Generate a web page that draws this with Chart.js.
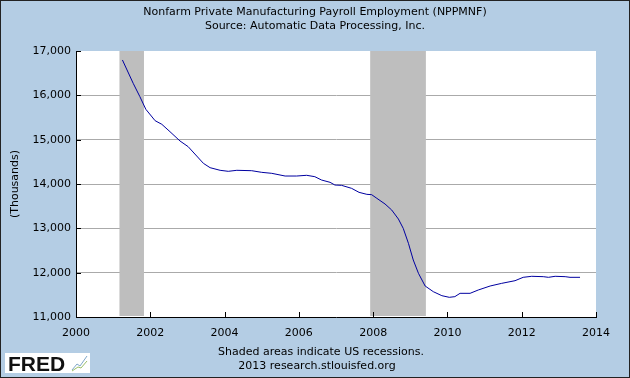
<!DOCTYPE html>
<html>
<head>
<meta charset="utf-8">
<script src="https://cdn.jsdelivr.net/npm/chart.js@4/dist/chart.umd.min.js"></script>
<style>
  html, body { margin: 0; padding: 0; background: #b4cde4; }
  #wrap { width: 630px; height: 378px; position: relative; }
</style>
</head>
<body>
<div id="wrap"><canvas id="chart" width="630" height="378"></canvas></div>
<script>
// values (decimal year, thousands)
var years = [
    2001.25, 2001.54, 2001.72, 2001.88, 2002.13, 2002.31, 2002.53, 2002.80,
    2003.02, 2003.25, 2003.43, 2003.61, 2003.88, 2004.10, 2004.33, 2004.73,
    2005.00, 2005.27, 2005.63, 2005.94, 2006.21, 2006.43, 2006.61, 2006.84,
    2006.97, 2007.15, 2007.42, 2007.62, 2007.83, 2007.96, 2008.10, 2008.32,
    2008.50, 2008.68, 2008.81, 2008.95, 2009.08, 2009.22, 2009.40, 2009.62,
    2009.85, 2010.05, 2010.20, 2010.34, 2010.61, 2010.83, 2011.15, 2011.46,
    2011.82, 2012.04, 2012.27, 2012.58, 2012.72, 2012.90, 2013.17, 2013.30,
    2013.57
];
var employment = [
    16797, 16271, 15970, 15685, 15428, 15347, 15180, 14970,
    14842, 14631, 14466, 14368, 14309, 14286, 14309, 14300,
    14263, 14241, 14180, 14180, 14196, 14165, 14090, 14038,
    13977, 13970, 13902, 13812, 13767, 13759, 13677, 13549,
    13413, 13210, 13000, 12662, 12286, 11985, 11699, 11571,
    11481, 11444, 11459, 11534, 11534, 11609, 11699, 11759,
    11819, 11895, 11918, 11910, 11895, 11918, 11910, 11895,
    11895
];
var recessionStart = [2001.17, 2007.92];
var recessionEnd = [2001.83, 2009.42];
var xTicks = [2000, 2002, 2004, 2006, 2008, 2010, 2012, 2014];
var yTicks = [11000, 12000, 13000, 14000, 15000, 16000, 17000];

var titleLines = [
    'Nonfarm Private Manufacturing Payroll Employment (NPPMNF)',
    'Source: Automatic Data Processing, Inc.'
];
var footLines = [
    'Shaded areas indicate US recessions.',
    '2013 research.stlouisfed.org'
];

var font = '"DejaVu Sans", Verdana, sans-serif';

var points = [];
for (var i = 0; i < years.length; i++) {
    points.push({x: years[i], y: employment[i]});
}

var fredPlugin = {
    id: 'fred',
    beforeDraw: function(chart) {
        var ctx = chart.ctx;
        var a = chart.chartArea;
        ctx.save();
        ctx.fillStyle = '#b4cde4';
        ctx.fillRect(0, 0, chart.width, chart.height);
        ctx.fillStyle = '#ffffff';
        ctx.fillRect(a.left, a.top, a.right - a.left, a.bottom - a.top);
        ctx.restore();
    },
    beforeDatasetsDraw: function(chart) {
        var ctx = chart.ctx;
        var a = chart.chartArea;
        var xs = chart.scales.x;
        var ys = chart.scales.y;
        ctx.save();
        // recessions
        ctx.fillStyle = '#bebebe';
        for (var i = 0; i < recessionStart.length; i++) {
            var x0 = xs.getPixelForValue(recessionStart[i]);
            var x1 = xs.getPixelForValue(recessionEnd[i]);
            ctx.fillRect(x0, a.top, x1 - x0, a.bottom - a.top - 1);
        }
        // inward ticks
        ctx.strokeStyle = '#000';
        ctx.lineWidth = 1;
        ctx.beginPath();
        xTicks.forEach(function(v) {
            var x = Math.round(xs.getPixelForValue(v)) + 0.5;
            ctx.moveTo(x, a.bottom);
            ctx.lineTo(x, a.bottom - 5);
        });
        yTicks.forEach(function(v) {
            var y = Math.round(ys.getPixelForValue(v)) + 0.5;
            ctx.moveTo(a.left, y);
            ctx.lineTo(a.left + 5, y);
        });
        ctx.stroke();
        ctx.restore();
    },
    afterDraw: function(chart) {
        var ctx = chart.ctx;
        var a = chart.chartArea;
        ctx.save();
        ctx.fillStyle = '#000';
        ctx.font = '11px ' + font;
        ctx.textAlign = 'center';
        ctx.textBaseline = 'middle';
        ctx.fillText(titleLines[0], 315, 12);
        ctx.fillText(titleLines[1], 315, 26);
        ctx.fillText(footLines[0], 321, 352);
        ctx.fillText(footLines[1], 317, 366);

        ctx.translate(15, (a.top + a.bottom) / 2);
        ctx.rotate(-Math.PI / 2);
        ctx.fillText('(Thousands)', 0, 0);
        ctx.restore();

        // FRED logo
        ctx.save();
        ctx.fillStyle = '#ffffff';
        ctx.fillRect(5, 353, 85, 20);
        ctx.fillStyle = '#111';
        ctx.font = 'bold 21px "Liberation Sans", Arial, sans-serif';
        ctx.textAlign = 'left';
        ctx.textBaseline = 'alphabetic';
        ctx.fillText('FRED', 8, 371);
        ctx.strokeStyle = '#7fa7c9';
        ctx.lineWidth = 1;
        ctx.beginPath();
        ctx.moveTo(72, 370); ctx.lineTo(77, 364); ctx.lineTo(80, 366); ctx.lineTo(87, 356);
        ctx.stroke();
        ctx.strokeStyle = '#9bbf6a';
        ctx.beginPath();
        ctx.moveTo(72, 371); ctx.lineTo(78, 367); ctx.lineTo(81, 368); ctx.lineTo(87, 361);
        ctx.stroke();
        ctx.restore();

        // outer frame
        ctx.save();
        ctx.strokeStyle = '#222';
        ctx.lineWidth = 1;
        ctx.strokeRect(0.5, 0.5, chart.width - 1, chart.height - 1);
        ctx.restore();
    }
};

var ctx = document.getElementById('chart').getContext('2d');
var myChart = new Chart(ctx, {
    type: 'line',
    data: {
        datasets: [{
            data: points,
            borderColor: '#0000a0',
            borderWidth: 1,
            pointRadius: 0,
            tension: 0,
            fill: false
        }]
    },
    options: {
        responsive: false,
        animation: false,
        devicePixelRatio: 1,
        layout: { padding: { left: 0, top: 51, right: 34, bottom: 0 } },
        plugins: {
            legend: { display: false },
            title: { display: false },
            tooltip: { enabled: false }
        },
        scales: {
            x: {
                type: 'linear',
                min: 2000,
                max: 2014,
                afterFit: function(scale) { scale.height = 61; },
                afterBuildTicks: function(scale) {
                    scale.ticks = xTicks.map(function(v) { return {value: v}; });
                },
                grid: { color: 'rgba(0,0,0,0)', drawTicks: false },
                border: { display: true, color: '#000', width: 1 },
                ticks: {
                    padding: 10,
                    color: '#000',
                    font: { family: font, size: 11 },
                    callback: function(v) { return String(v); }
                }
            },
            y: {
                min: 11000,
                max: 17000,
                afterFit: function(scale) { scale.width = 76; },
                afterBuildTicks: function(scale) {
                    scale.ticks = yTicks.map(function(v) { return {value: v}; });
                },
                grid: {
                    drawTicks: false,
                    color: function(c) {
                        if (c.tick && (c.tick.value == 17000 || c.tick.value == 11000)) return 'rgba(0,0,0,0)';
                        return '#aaaaaa';
                    }
                },
                border: { display: true, color: '#000', width: 1 },
                ticks: {
                    padding: 5,
                    color: '#000',
                    font: { family: font, size: 11 },
                    callback: function(v) { return v.toLocaleString('en-US'); }
                }
            }
        }
    },
    plugins: [fredPlugin]
});
</script>
</body>
</html>
